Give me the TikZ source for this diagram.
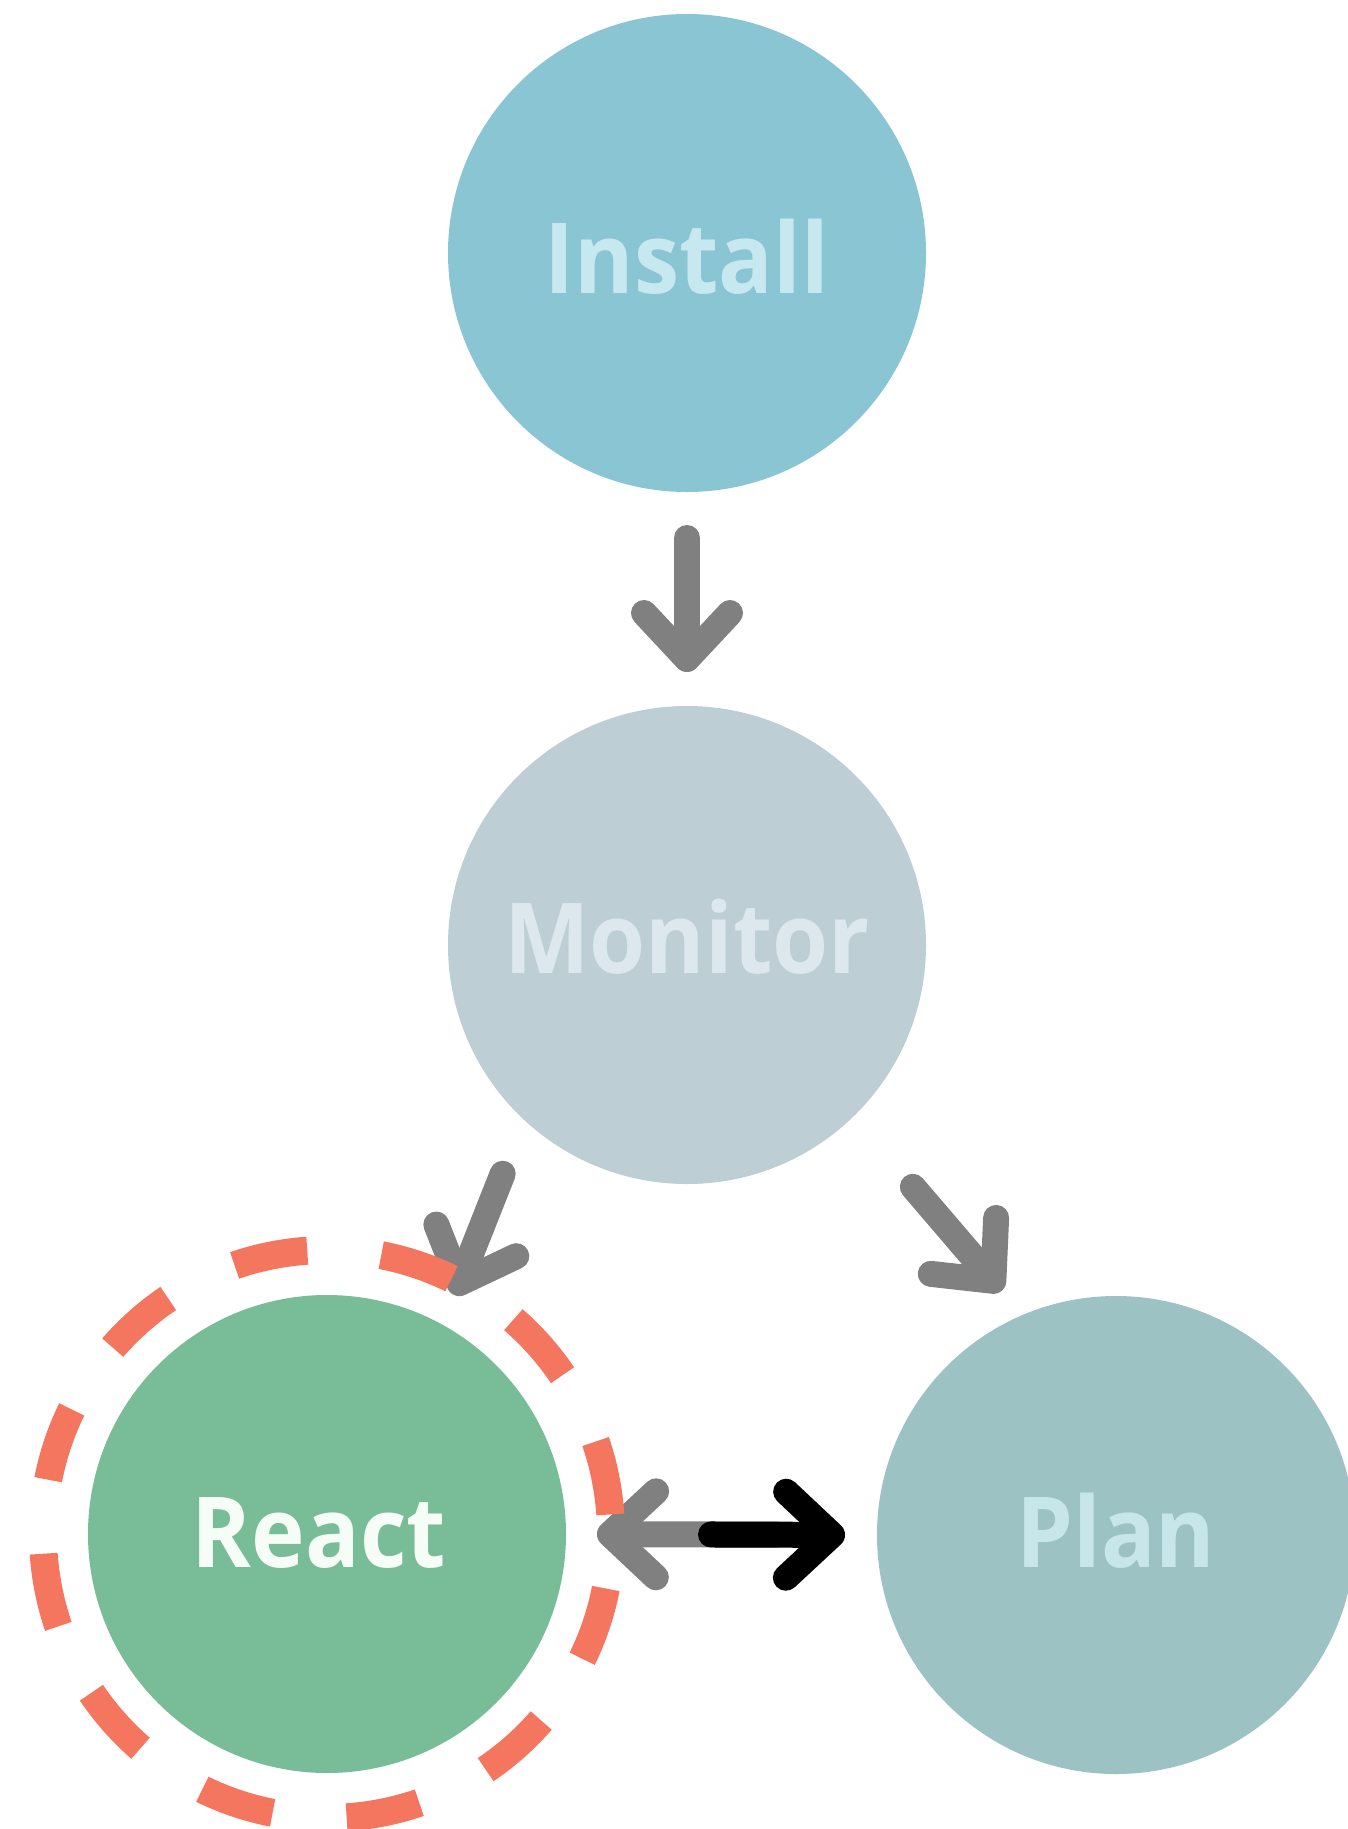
\documentclass[tikz,border=0pt]{standalone}
\usepackage{fontspec}
\setmainfont{Open Sans}[FakeStretch=0.925]
\usetikzlibrary{arrows.meta}

\definecolor{installfill}{HTML}{8AC5D3}
\definecolor{installtext}{HTML}{C8E8F0}
\definecolor{monitorfill}{HTML}{BDCED5}
\definecolor{monitortext}{HTML}{DCE8EE}
\definecolor{reactfill}{HTML}{78BC98}
\definecolor{reacttext}{HTML}{F6FDF6}
\definecolor{planfill}{HTML}{9DC2C3}
\definecolor{plantext}{HTML}{C6E6EA}
\definecolor{ringcol}{HTML}{F5765F}
\definecolor{flowcol}{HTML}{808080}

\tikzset{
  stage/.style={circle, minimum size=478pt, inner sep=0pt, outer sep=0pt,
    text height=72pt, text depth=0pt,
    font=\fontsize{98}{100}\selectfont\bfseries},
  barb/.tip={Straight Barb[length=46pt, width=86pt, round]},
  flow/.style={draw=flowcol, line width=26pt, line cap=round, line join=round, -barb},
  flowdark/.style={flow, draw=black},
  focusring/.style={draw=ringcol, line width=28pt, dash pattern=on 74.35pt off 74.35pt}
}

\begin{document}
\begin{tikzpicture}[x=1pt, y=1pt]
  \useasboundingbox (0,0) rectangle (1347,-1829);

  % the four stages of the cycle
  \node[stage, fill=installfill, text=installtext] (install) at (687,-253)
    {\raisebox{-4pt}{Install}};
  \node[stage, fill=monitorfill, text=monitortext] (monitor) at (687,-945)
    {\raisebox{8pt}{Monitor}};
  \node[stage, fill=reactfill, text=reacttext] (react) at (327,-1534)
    {\hspace*{-16pt}\raisebox{3pt}{React}};
  \node[stage, fill=planfill, text=plantext] (plan) at (1116,-1535)
    {\raisebox{4pt}{Plan}};

  % transitions
  \draw[flow, shorten <=46pt, shorten >=34pt] (install.south) -- (monitor.north);
  \draw[flow, shorten <=58pt, shorten >=32pt] (monitor.227.7) -- (react.61.9);
  \draw[flow, shorten <=92pt, shorten >=32pt] (monitor.314.5) -- (plan.113.4);
  \draw[flow, shorten <=100pt, shorten >=31pt] (plan.west) -- (react.east);
  \draw[flowdark, shorten <=145pt, shorten >=32pt] (react.east) -- (plan.west);

  % dashed ring marking the active stage
  \draw[focusring] ([shift={(4:284pt)}]react.center) arc[start angle=4, end angle=364, radius=284pt];
\end{tikzpicture}
\end{document}
